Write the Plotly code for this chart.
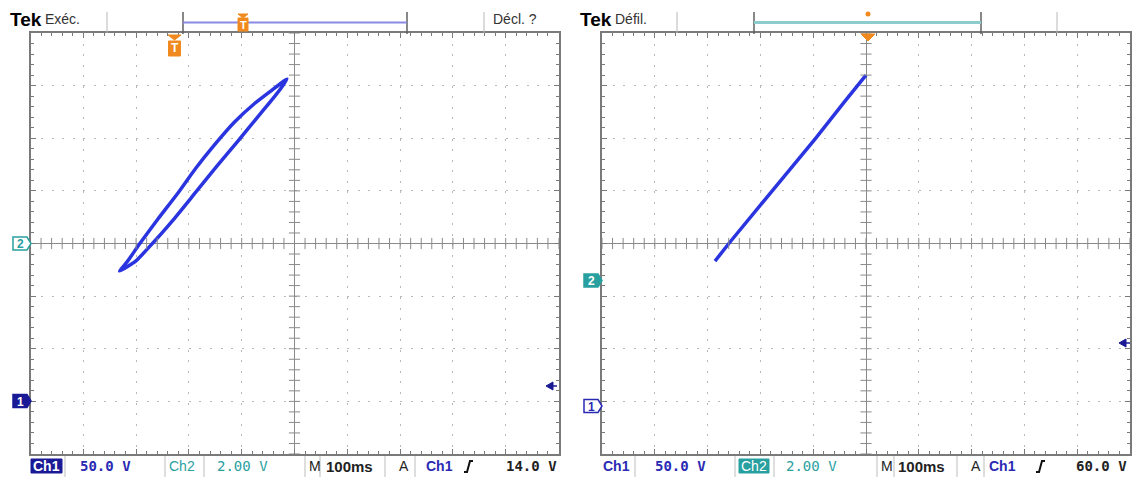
import numpy as np
import plotly.graph_objects as go

W, H = 1134, 479

# ---- Data (XY mode: Ch1 on X at 50 V/div, Ch2 on Y at 2 V/div; values relative to screen centre) ----
loop_ch1_v = [-165.6, -158.0, -147.5, -129.5, -110.5, -93.5, -76.0, -57.0, -37.5, -21.3, -7.1,
              -12.8, -23.2, -36.5, -53.6, -73.5, -93.5, -114.4, -134.3, -150.4, -165.6]
loop_ch2_v = [-1.05, -0.67, -0.06, 0.92, 1.91, 2.86, 3.74, 4.61, 5.33, 5.83, 6.25,
              5.90, 5.37, 4.73, 3.89, 2.94, 1.95, 0.92, 0.01, -0.67, -1.05]
line_ch1_v = [-143.0, -129.7, -89.0, -48.3, -19.9, 0.0]
line_ch2_v = [-0.67, 0.01, 1.99, 3.97, 5.41, 6.40]

ch1_scale_v = 50.0
ch2_scale_v = 2.0
x_divs = 5
y_divs = 4

left_header = ["Tek", "Exéc.", "Décl. ?"]
right_header = ["Tek", "Défil."]
left_status = ["Ch1", "50.0 V", "Ch2", "2.00 V", "M", "100ms", "A", "Ch1", "14.0 V"]
right_status = ["Ch1", "50.0 V", "Ch2", "2.00 V", "M", "100ms", "A", "Ch1", "60.0 V"]

TRACE = "#2a35e0"
BLUE = "#2a2ab4"
DKBLUE = "#1a1a96"
TEAL = "#28a0a0"
ORANGE = "#f08a1e"
FRAME = "#7a7a7a"

def px(x):
    return x / W

def py(y):
    return 1 - y / H

fig = go.Figure()

# traces
fig.add_trace(go.Scatter(x=loop_ch1_v, y=loop_ch2_v, mode="lines", xaxis="x", yaxis="y",
                         line=dict(color=TRACE, width=3.5, shape="spline", smoothing=0.5),
                         hoverinfo="skip", showlegend=False))
fig.add_trace(go.Scatter(x=line_ch1_v, y=line_ch2_v, mode="lines", xaxis="x2", yaxis="y2",
                         line=dict(color=TRACE, width=3.5),
                         hoverinfo="skip", showlegend=False))

# centre cross tick marks (graticule decoration)
xt = np.arange(-x_divs * 5, x_divs * 5 + 1) * ch1_scale_v / 5
yt = np.arange(-y_divs * 5, y_divs * 5 + 1) * ch2_scale_v / 5
for xa, ya in (("x", "y"), ("x2", "y2")):
    fig.add_trace(go.Scatter(x=xt, y=np.zeros_like(xt), mode="markers", xaxis=xa, yaxis=ya,
                             marker=dict(symbol="line-ns", size=8, line=dict(width=1, color="#8a8a8a")),
                             hoverinfo="skip", showlegend=False))
    fig.add_trace(go.Scatter(x=np.zeros_like(yt), y=yt, mode="markers", xaxis=xa, yaxis=ya,
                             marker=dict(symbol="line-ew", size=8, line=dict(width=1, color="#8a8a8a")),
                             hoverinfo="skip", showlegend=False))

def axis(rng, dtick, domain, anchor):
    return dict(range=rng, domain=domain, anchor=anchor, dtick=dtick,
                showgrid=True, gridcolor="#b8b8b8", griddash="2px,8.56px", gridwidth=1,
                zeroline=True, zerolinecolor="#8a8a8a", zerolinewidth=1,
                showline=True, linecolor=FRAME, linewidth=2, mirror="ticks",
                ticks="inside", ticklen=5, tickcolor=FRAME, tickwidth=1,
                minor=dict(ticks="inside", ticklen=3, tickcolor=FRAME, dtick=dtick / 5, showgrid=False),
                showticklabels=False, fixedrange=True)

ydom = [(H - 454) / H, (H - 33) / H]
xr = [-x_divs * ch1_scale_v, x_divs * ch1_scale_v]
yr = [-y_divs * ch2_scale_v, y_divs * ch2_scale_v]

fig.update_layout(
    width=W, height=H, margin=dict(l=0, r=0, t=0, b=0),
    paper_bgcolor="white", plot_bgcolor="white", showlegend=False,
    xaxis=axis(xr, ch1_scale_v, [30.5 / W, 558.5 / W], "y"),
    yaxis=axis(yr, ch2_scale_v, ydom, "x"),
    xaxis2=axis(xr, ch1_scale_v, [602 / W, 1130 / W], "y2"),
    yaxis2=axis(yr, ch2_scale_v, ydom, "x2"),
)

shapes = []
annots = []

def line(x0, y0, x1, y1, color, width=1):
    shapes.append(dict(type="line", xref="paper", yref="paper", x0=px(x0), y0=py(y0),
                       x1=px(x1), y1=py(y1), line=dict(color=color, width=width)))

def rect(x0, y0, x1, y1, fill, border=None):
    shapes.append(dict(type="rect", xref="paper", yref="paper", x0=px(x0), y0=py(y0),
                       x1=px(x1), y1=py(y1), fillcolor=fill,
                       line=dict(color=border or fill, width=1)))

def poly(pts, fill, border=None, width=1):
    d = "M " + " L ".join(f"{px(a):.5f},{py(b):.5f}" for a, b in pts) + " Z"
    shapes.append(dict(type="path", xref="paper", yref="paper", path=d, fillcolor=fill,
                       line=dict(color=border or fill, width=width)))

def text(x, y, s, size=14, color="#000", family="Liberation Sans", bold=False, anchor="left"):
    annots.append(dict(x=px(x), y=py(y), xref="paper", yref="paper", showarrow=False,
                       text=f"<b>{s}</b>" if bold else s, xanchor=anchor, yanchor="middle",
                       font=dict(size=size, color=color, family=family)))

# ---------------- headers ----------------
for off, hdr in ((0, left_header), (570, right_header)):
    text(off + 8, 19, hdr[0], size=19, bold=True, family="Liberation Sans Narrow, Liberation Sans")
    text(off + 43, 19, hdr[1], size=14, color="#333")

line(107, 12, 107, 33, "#b8b8b8")
line(484, 12, 484, 33, "#b8b8b8")
text(491, 19, left_header[2], size=14, color="#333")
line(183, 12, 183, 34, "#606060", 1.5)
line(407, 12, 407, 34, "#606060", 1.5)
line(183, 22.5, 407, 22.5, "#8a8ae6", 2)
# header trigger marker
poly([(238, 14), (248, 14), (243, 18)], ORANGE)
rect(238, 18, 248, 31, ORANGE)
text(243, 25, "T", size=11, color="white", bold=True, anchor="center")
# panel trigger marker
poly([(168, 35), (181, 35), (174.5, 40)], ORANGE)
rect(168.5, 41, 180.5, 56, ORANGE)
text(174.5, 48.5, "T", size=12, color="white", bold=True, anchor="center")

line(677, 12, 677, 33, "#b8b8b8")
line(1057, 12, 1057, 33, "#b8b8b8")
line(754, 12, 754, 34, "#606060", 1.5)
line(981, 12, 981, 34, "#606060", 1.5)
line(754, 22.5, 981, 22.5, "#8ccccc", 3)
shapes.append(dict(type="circle", xref="paper", yref="paper", x0=px(865.5), y0=py(11.5),
                   x1=px(870.5), y1=py(16.5), fillcolor=ORANGE, line=dict(color=ORANGE, width=0)))
poly([(861, 34), (875, 34), (868, 41)], ORANGE)

# ---------------- channel markers ----------------
def chan_marker(x, y, label, color, filled):
    pts = [(x - 18, y - 6.5), (x - 4, y - 6.5), (x, y), (x - 4, y + 6.5), (x - 18, y + 6.5)]
    poly(pts, color if filled else "white", color, 1.5)
    text(x - 10.5, y + 0.5, label, size=12, color="white" if filled else color, bold=True, anchor="center")

chan_marker(31, 243.5, "2", TEAL, False)
chan_marker(31, 401, "1", DKBLUE, True)
chan_marker(602, 280.5, "2", TEAL, True)
chan_marker(602, 406, "1", BLUE, False)

# trigger level arrows
poly([(546, 386), (553, 382), (553, 390)], DKBLUE)
line(552, 386, 557, 386, DKBLUE, 1.5)
poly([(1119, 343), (1126, 339), (1126, 347)], DKBLUE)
line(1125, 343, 1130, 343, DKBLUE, 1.5)

# ---------------- status bars ----------------
SY = 466
MONO = "DejaVu Sans Mono"

def status(off, st, hl_ch1, seps, xs):
    if hl_ch1:
        rect(off + 31, 459, off + 62, 473, DKBLUE)
        text(off + 46.5, SY, st[0], size=14, color="white", bold=True, anchor="center")
        text(off + 167, SY, st[2], size=14, color=TEAL, bold=False)
    else:
        text(off + 31, SY, st[0], size=14, color=BLUE, bold=True)
        rect(off + 169, 459, off + 199, 473, TEAL)
        text(off + 184, SY, st[2], size=14, color="white", bold=False, anchor="center")
    for s in seps:
        line(off + s, 456, off + s, 477, "#bdbdbd")
    text(off + xs[0], SY, st[1], size=14, color=BLUE, family=MONO, bold=True)
    text(off + xs[1], SY, st[3], size=14, color=TEAL, family=MONO)
    text(off + xs[2], SY, st[4], size=14, color="#222")
    text(off + xs[3], SY, st[5], size=15, color="#222", family="Liberation Sans", bold=True)
    text(off + xs[4], SY, st[6], size=14, color="#222")
    text(off + xs[5], SY, st[7], size=14, color=BLUE, bold=True)
    e = off + xs[6]
    shapes.append(dict(type="path", xref="paper", yref="paper",
                       path=f"M {px(e):.5f},{py(472):.5f} L {px(e + 3):.5f},{py(472):.5f} "
                            f"L {px(e + 6):.5f},{py(461):.5f} L {px(e + 9):.5f},{py(461):.5f}",
                       line=dict(color="#111", width=2)))
    text(off + xs[7], SY, st[8], size=14, color="#222", family=MONO, bold=True, anchor="right")

status(0, left_status, True, [65, 165, 204, 305, 320, 385, 415],
       [78, 215, 307, 324, 397, 424, 464, 559])
status(570, right_status, False, [65, 165, 204, 307, 324, 387, 414],
       [83, 214, 309, 326, 399, 417, 466, 559])

fig.update_layout(shapes=shapes, annotations=annots)
fig.write_html("out.html", config={"displayModeBar": False, "staticPlot": True},
               post_script="document.body.style.margin='0';document.body.style.overflow='hidden';")
